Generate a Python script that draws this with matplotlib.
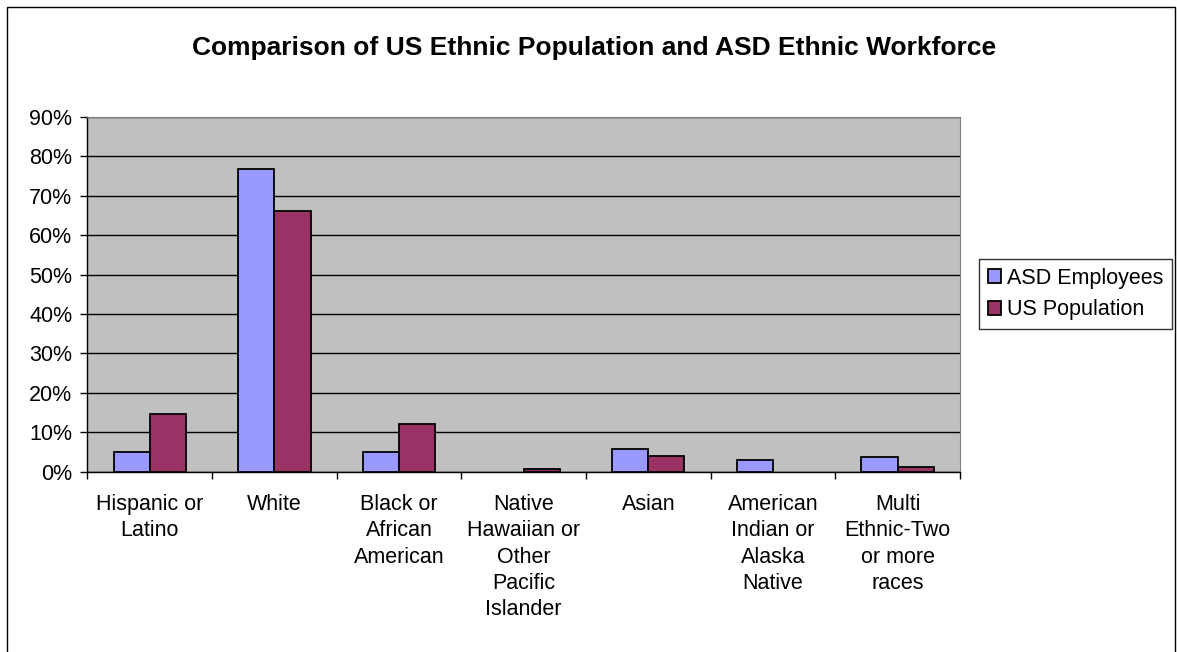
import matplotlib.pyplot as plt
import numpy as np
from matplotlib.patches import Rectangle
from matplotlib.ticker import FuncFormatter

plt.rcParams['font.family'] = ['Liberation Sans', 'DejaVu Sans']

categories = ['Hispanic or\nLatino', 'White', 'Black or\nAfrican\nAmerican',
              'Native\nHawaiian or\nOther\nPacific\nIslander', 'Asian',
              'American\nIndian or\nAlaska\nNative', 'Multi\nEthnic-Two\nor more\nraces']
asd_employees = [5.0, 76.8, 5.0, 0.0, 5.8, 2.9, 3.7]
us_population = [14.7, 66.2, 12.2, 0.7, 4.1, 0.0, 1.2]
series_names = ['ASD Employees', 'US Population']
title = 'Comparison of US Ethnic Population and ASD Ethnic Workforce'

fig = plt.figure(figsize=(11.77, 6.52), dpi=100)
ax = fig.add_axes([0.0743, 0.2765, 0.7413, 0.5441])

x = np.arange(len(categories))
w = 0.29


def draw_series(offset, values, color, label):
    # empty categories get no bar at all
    vals = np.array(values)
    keep = vals > 0
    ax.bar(x[keep] + offset, vals[keep], w, color=color, edgecolor='black',
           linewidth=1.3, label=label, zorder=3)


draw_series(-w / 2, asd_employees, '#9999FF', series_names[0])
draw_series(w / 2, us_population, '#993366', series_names[1])

ax.set_facecolor('#C0C0C0')
ax.set_xlim(-0.5, len(categories) - 0.5)
ax.set_ylim(0, 90)
ax.set_yticks(np.arange(0, 91, 10))
ax.yaxis.set_major_formatter(FuncFormatter(lambda v, p: f'{v:.0f}%'))
ax.grid(axis='y', color='black', linewidth=1.0, zorder=1)
ax.set_axisbelow(True)

# ticks between categories, labels under the centres
ax.set_xticks(np.arange(-0.5, len(categories), 1.0))
ax.set_xticklabels([])
ax.set_xticks(x, minor=True)
ax.set_xticklabels(categories, minor=True, fontsize=15.5, linespacing=1.33, va='top')
ax.tick_params(axis='x', which='minor', length=0, pad=16)
ax.tick_params(axis='x', which='major', length=5, width=1, color='black')
ax.tick_params(axis='y', length=5, width=1, labelsize=15.5, pad=6)

for side in ['top', 'right']:
    ax.spines[side].set_color('#808080')
for side in ['left', 'bottom']:
    ax.spines[side].set_color('black')
    ax.spines[side].set_linewidth(1.0)

fig.text(0.505, 0.927, title, ha='center', va='center', fontsize=19, fontweight='bold')

leg = fig.legend(loc='upper left', bbox_to_anchor=(979 / 1177, 1 - 259 / 652),
                 fontsize=15.5, frameon=True, fancybox=False, borderaxespad=0,
                 handlelength=0.6, handleheight=0.6, handletextpad=0.3,
                 borderpad=0.4, labelspacing=0.5)
leg.get_frame().set_edgecolor('black')
leg.get_frame().set_linewidth(1.0)

# outer chart border, runs past the bottom edge
fig.patches.append(Rectangle((7 / 1177, -0.05), 1168 / 1177, 1 - 7 / 652 + 0.05,
                             transform=fig.transFigure, fill=False,
                             edgecolor='black', linewidth=1.0))

fig.savefig('out.png', dpi=100)
